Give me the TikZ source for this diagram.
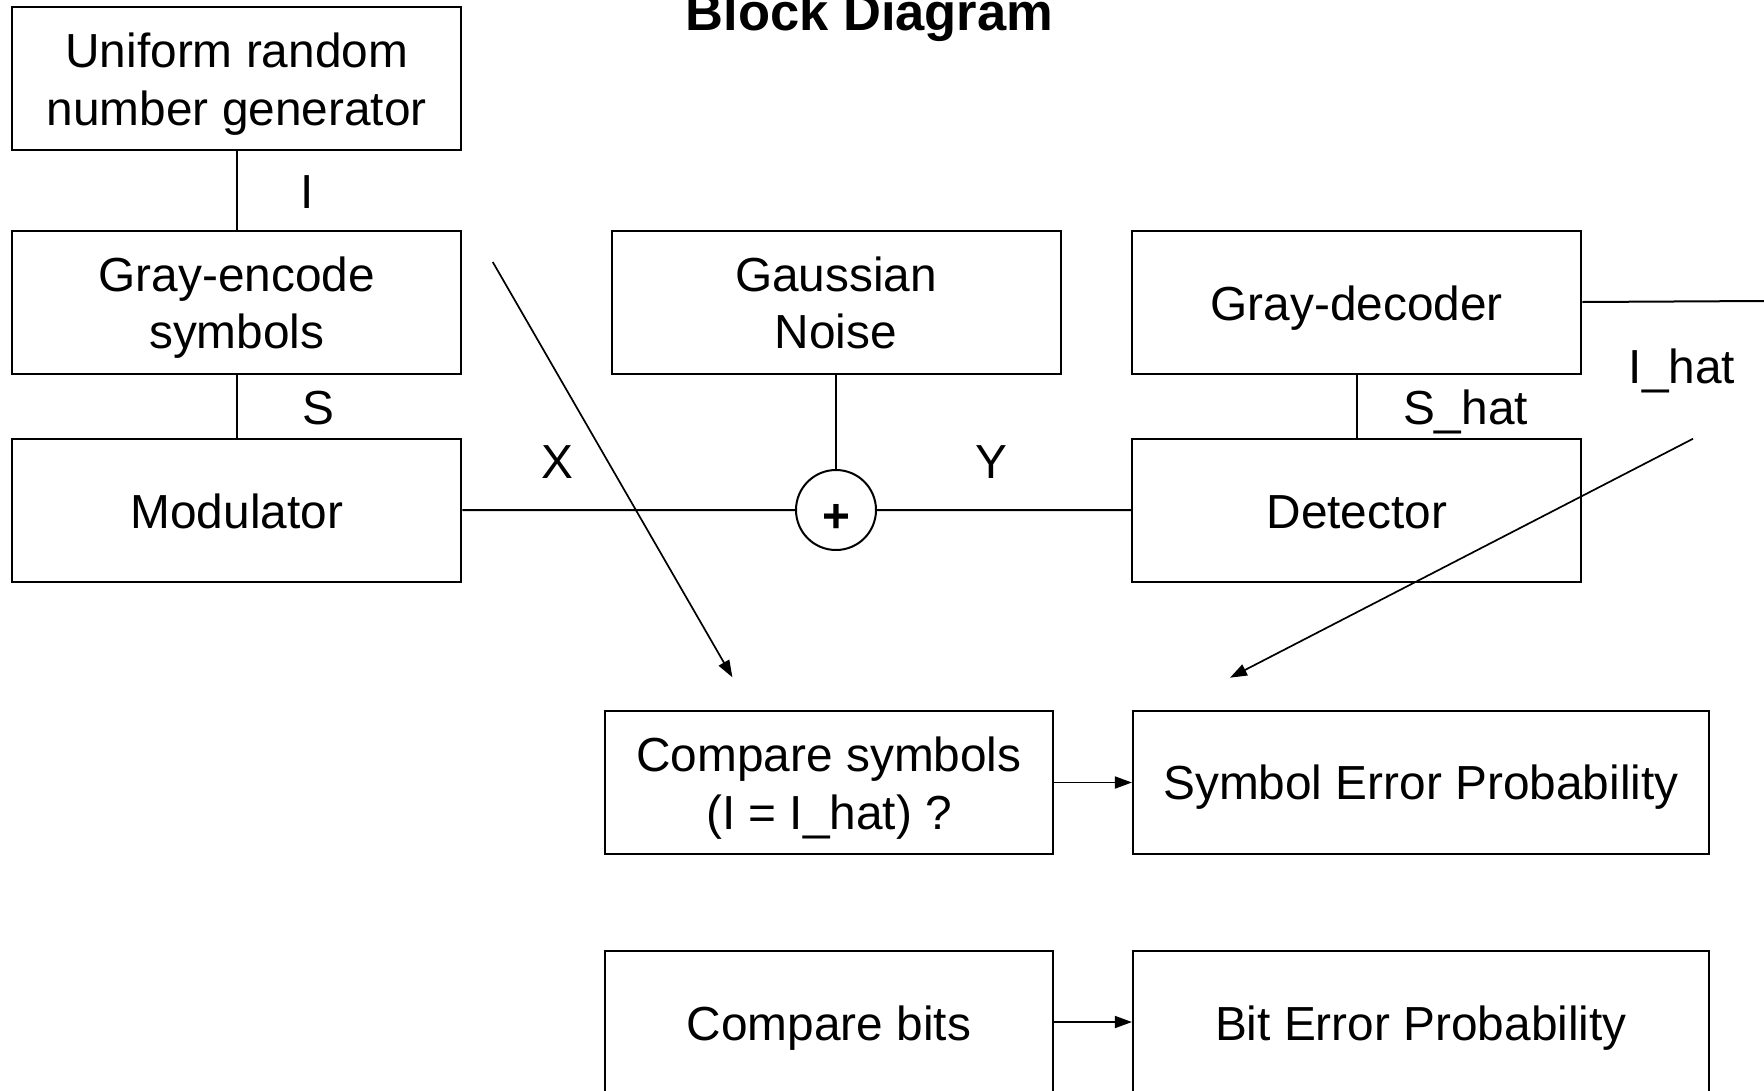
\documentclass[tikz,border=0pt]{standalone}
\usepackage{fontspec}
\setmainfont{Liberation Sans}
\usetikzlibrary{arrows.meta}
\newcommand\topstrut{\rule{0pt}{46.2pt}}
\newcommand\botstrut{\rule[-10pt]{0pt}{10pt}}
\begin{document}
\begin{tikzpicture}[x=1pt,y=-1pt,
  box/.style={draw,line width=2pt,minimum width=449pt,minimum height=143pt,inner sep=0pt,align=center,font=\fontsize{47.8}{57.5}\selectfont},
  onebox/.style={box,text height=36pt,text depth=0pt},
  lbl/.style={anchor=base,inner sep=0pt,font=\fontsize{47.8}{57.5}\selectfont},
  conn/.style={line width=2pt},
  arr/.style={line width=1.7pt,-{Triangle[length=17pt,width=12pt]}}]
\clip (0,0) rectangle (1764,1090);
\fill[white] (0,0) rectangle (1764,1090);
\node[anchor=base,inner sep=0pt,font=\bfseries\fontsize{52.5}{60}\selectfont] (title) at (869.5,30.6) {Block Diagram};
\node[box] (u) at (236.8,78.2) {\topstrut Uniform random\\number generator\botstrut};
\node[box] (g) at (236.8,302) {\topstrut Gray-encode\\symbols\botstrut};
\node[onebox] (m) at (236.8,510.2) {Modulator};
\node[box] (gn) at (836,302) {\topstrut Gaussian\\Noise\botstrut};
\node[onebox] (gd) at (1356.8,302) {Gray-decoder};
\node[onebox] (det) at (1356.8,510.2) {Detector};
\node[draw,circle,minimum size=80pt,inner sep=0pt,line width=2pt,text height=44.6pt,text depth=0pt,font=\bfseries\fontsize{47.8}{50}\selectfont] (sum) at (836,510) {+};
\node[box,minimum width=448pt] (cs) at (829,782.5) {\topstrut Compare symbols\\(I = I\_hat) ?\botstrut};
\node[box,minimum width=576pt,text height=34pt,text depth=0pt] (sep) at (1420.9,782.5) {Symbol Error Probability};
\node[onebox,minimum width=448pt] (cb) at (829,1022) {Compare bits};
\node[onebox,minimum width=576pt] (bep) at (1420.9,1022) {Bit Error Probability};
\draw[conn] (u.south) -- (g.north);
\draw[conn] (g.south) -- (m.north);
\draw[conn] (m.east) -- (sum.west);
\draw[conn] (sum.east) -- (det.west);
\draw[conn] (gn.south) -- (sum.north);
\draw[conn] (gd.south) -- (det.north);
\coordinate (ihatend) at (1764,301);
\draw[conn] (gd.east) -- (ihatend);
\coordinate (a1s) at (492.75,262);
\coordinate (a1e) at (732.4,677.3);
\draw[arr] (a1s) -- (a1e);
\coordinate (a2s) at (1693,438.75);
\coordinate (a2e) at (1230,677.7);
\draw[arr] (a2s) -- (a2e);
\draw[arr] (cs.east) -- (sep.west);
\draw[arr] (cb.east) -- (bep.west);
\node[lbl] (lI) at (307,208) {I};
\node[lbl] (lS) at (318,424) {S};
\node[lbl] (lX) at (557.4,478) {X};
\node[lbl] (lY) at (991.7,478) {Y};
\node[lbl] (lSh) at (1465.5,424) {S\_hat};
\node[lbl] (lIh) at (1682,383) {I\_hat};
\end{tikzpicture}
\end{document}
